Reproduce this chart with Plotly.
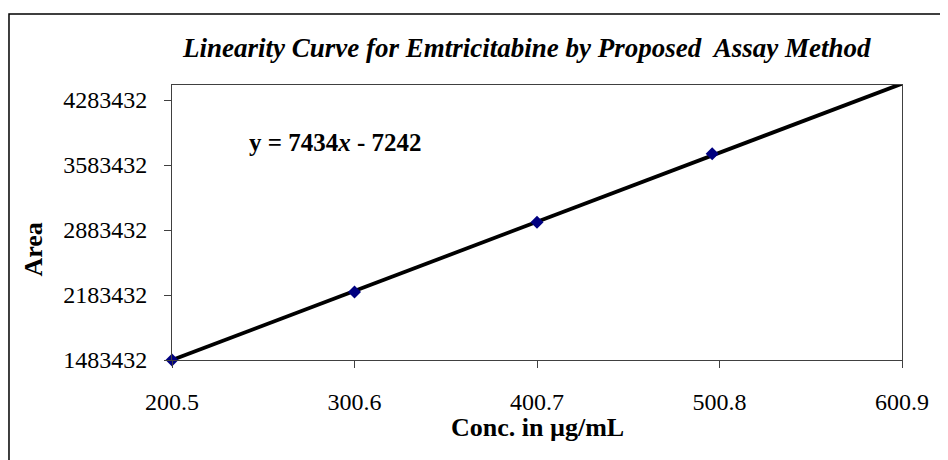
import plotly.graph_objects as go

conc = [200.5, 300.6, 400.7, 496.8]
area = [1483432, 2215000, 2968000, 3705000]

# linear trendline, y = 7434x - 7242, drawn across the axis span
trend_x = [200.5, 600.9]
trend_y = [1483275, 4459848]

x_ticks = [200.5, 300.6, 400.7, 500.8, 600.9]
y_ticks = [1483432, 2183432, 2883432, 3583432, 4283432]

SERIF = "Liberation Serif"

fig = go.Figure()

fig.add_trace(go.Scatter(
    x=trend_x, y=trend_y,
    mode="lines",
    line=dict(color="black", width=3.8),
    showlegend=False,
    hoverinfo="skip",
))

fig.add_trace(go.Scatter(
    x=conc, y=area,
    mode="markers",
    marker=dict(symbol="diamond", size=10, color="#000080"),
    cliponaxis=False,
    showlegend=False,
))

axis_common = dict(
    showgrid=False,
    zeroline=False,
    showline=True,
    linecolor="#404040",
    linewidth=1,
    mirror=True,
    ticks="outside",
    ticklen=7,
    tickcolor="#404040",
    tickfont=dict(family=SERIF, size=24, color="black"),
)

fig.update_xaxes(
    range=[200.5, 600.9],
    tickvals=x_ticks,
    ticktext=[f"{v:.1f}" for v in x_ticks],
    ticklabelstandoff=13,
    **axis_common,
)
fig.update_yaxes(
    range=[1483432, 4445000],
    tickvals=y_ticks,
    ticktext=[str(v) for v in y_ticks],
    ticklabelstandoff=12,
    **axis_common,
)

# equation label
fig.add_annotation(
    x=0.103, y=0.79, xref="paper", yref="paper",
    xanchor="left", yanchor="middle",
    text="<b>y = 7434<i>x</i> - 7242</b>",
    showarrow=False,
    font=dict(family=SERIF, size=25, color="black"),
)

# axis titles
fig.add_annotation(
    x=0.5, y=-0.245, xref="paper", yref="paper",
    xanchor="center", yanchor="middle",
    text="<b>Conc. in µg/mL</b>",
    showarrow=False,
    font=dict(family=SERIF, size=26, color="black"),
)
fig.add_annotation(
    x=-0.191, y=0.4, xref="paper", yref="paper",
    xanchor="center", yanchor="middle",
    text="<b>Area</b>",
    textangle=-90,
    showarrow=False,
    font=dict(family=SERIF, size=26, color="black"),
)

# outer chart border (right/bottom edges fall outside the picture)
fig.add_shape(
    type="rect", xref="paper", yref="paper",
    x0=-0.2233, x1=1.08, y0=-0.4, y1=1.258,
    line=dict(color="black", width=1.5),
    fillcolor="rgba(0,0,0,0)",
    layer="below",
)

# page body has an 8px margin, so the figure is sized to end at the window edge
fig.update_layout(
    width=940,
    height=452,
    margin=dict(l=164, r=46, t=77, b=100),
    paper_bgcolor="white",
    plot_bgcolor="white",
    title=dict(
        text="<b><i>Linearity Curve for Emtricitabine by Proposed  Assay Method</i></b>",
        x=0.486, xref="paper", xanchor="center",
        y=0.9115, yref="container", yanchor="middle",
        font=dict(family=SERIF, size=27, color="black"),
    ),
)

fig.write_html("out.html")
